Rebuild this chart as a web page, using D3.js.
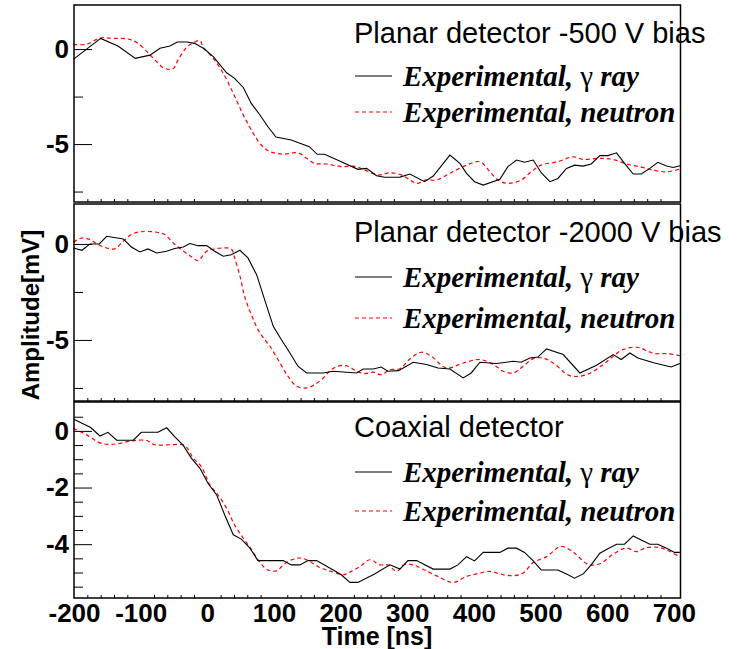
<!DOCTYPE html>
<meta charset="utf-8">
<script src="https://cdn.jsdelivr.net/npm/d3@7"></script>
<style>
    body { margin: 0; background: #fff; }
    svg { display: block; }
</style>
<body>
<svg></svg>
</body>
<script>

    // 时间轴 (ns)
    var xTicksMajor = [-200, -100, 0, 100, 200, 300, 400, 500, 600, 700];

    // Planar -500 V
    var t500Gamma = [-201,-181,-160,-134,-108,-86,-71,-56,-45,-31,-19,-6,9,29,41,54,66,79,91,103,126,153,165,176,201,226,239,254,266,289,304,326,339,364,379,389,401,414,439,451,464,476,489,501,514,526,539,551,564,576,589,601,614,626,639,651,664,676,689,699,709];
    var a500Gamma = [-0.54,0,0.56,0.16,-0.49,-0.32,0.04,0.16,0.37,0.37,0.30,0.04,-0.40,-1.25,-1.54,-2.02,-2.86,-3.47,-4.09,-4.63,-4.79,-5.14,-5.54,-5.54,-5.93,-6.33,-6.28,-6.67,-6.75,-6.74,-6.58,-6.98,-6.68,-5.58,-6.02,-6.54,-6.98,-7.16,-6.86,-6.19,-5.84,-5.96,-5.84,-6.51,-6.98,-6.81,-6.28,-6.11,-6.16,-6.05,-5.61,-5.61,-5.46,-6.02,-6.58,-6.58,-6.28,-5.96,-6.16,-6.23,-6.14];
    var t500Neutron = [-201,-181,-161,-141,-119,-106,-89,-76,-64,-51,-44,-31,-21,-11,-6,9,24,39,54,69,81,94,114,136,149,161,179,201,219,234,256,274,291,304,314,329,344,364,389,409,424,436,451,471,486,501,526,549,564,589,609,629,649,669,689,709];
    var a500Neutron = [0.25,0.25,0.58,0.56,0.53,0.35,-0.19,-0.67,-1.02,-1.02,-0.58,0.09,0.33,0.44,0.09,-0.49,-1.28,-2.33,-3.47,-4.44,-5.05,-5.40,-5.53,-5.46,-5.75,-6.02,-6.05,-6.19,-6.16,-6.33,-6.63,-6.51,-6.62,-6.89,-7.07,-6.89,-6.89,-6.54,-6.11,-5.93,-6.46,-6.89,-7.07,-6.89,-6.46,-6.11,-5.93,-5.67,-5.81,-5.75,-5.81,-6.05,-6.19,-6.37,-6.46,-6.32];

    // Planar -2000 V
    var t2000Gamma = [-201,-188,-176,-162,-151,-126,-114,-101,-89,-76,-61,-49,-36,-26,-14,-1,11,24,36,49,61,74,86,99,111,124,136,149,174,189,224,234,249,261,271,287,309,329,346,364,384,396,409,434,459,471,484,496,509,534,559,584,609,621,634,646,671,696,709];
    var a2000Gamma = [-0.21,-0.33,0,0,0.40,0.26,-0.16,-0.42,-0.26,-0.47,-0.38,-0.24,-0.16,0.02,-0.09,-0.09,-0.38,-0.64,-0.56,-0.33,-0.73,-1.60,-2.90,-4.29,-4.98,-5.68,-6.37,-6.72,-6.72,-6.63,-6.72,-6.51,-6.51,-6.41,-6.63,-6.60,-6.16,-6.28,-6.46,-6.51,-6.98,-6.72,-6.16,-6.23,-6.11,-6.16,-5.94,-5.89,-5.47,-5.76,-6.72,-6.32,-5.76,-6.02,-5.68,-5.94,-6.20,-6.41,-6.23];
    var t2000Neutron = [-201,-188,-176,-164,-151,-139,-126,-114,-101,-76,-64,-51,-39,-26,-14,-1,11,24,36,41,49,56,66,79,94,109,121,134,149,161,174,186,199,211,224,236,249,261,274,289,304,321,336,359,384,409,429,444,459,474,489,504,519,544,569,594,609,624,646,661,671,689,709];
    var a2000Neutron = [0.09,0.31,0.23,-0.03,-0.21,-0.26,0.14,0.49,0.63,0.61,0.49,0.05,-0.30,-0.61,-0.87,-0.38,-0.26,-0.21,-0.26,-0.73,-1.68,-2.73,-3.68,-4.64,-5.33,-6.20,-6.89,-7.41,-7.50,-7.33,-6.98,-6.55,-6.34,-6.37,-6.63,-6.75,-6.68,-6.81,-6.55,-6.50,-5.99,-5.64,-5.85,-6.46,-6.20,-6.02,-6.28,-6.63,-6.72,-6.37,-5.97,-5.94,-6.20,-6.86,-6.81,-6.28,-5.85,-5.50,-5.38,-5.59,-5.71,-5.71,-5.82];

    // Coaxial
    var tCoaxGamma = [-201,-188,-175,-161,-149,-136,-111,-99,-74,-61,-49,-36,-24,-11,1,14,26,39,51,64,76,114,126,139,151,164,189,201,214,226,251,274,289,301,314,339,364,376,389,401,414,439,451,464,476,489,501,526,539,551,564,576,589,601,614,626,639,651,664,676,689,701,709];
    var aCoaxGamma = [0.42,0.27,0.12,-0.18,-0.05,-0.33,-0.33,-0.05,-0.05,0.11,-0.20,-0.51,-0.96,-1.32,-1.85,-2.26,-2.96,-3.67,-3.82,-4.14,-4.58,-4.58,-4.73,-4.73,-4.58,-4.58,-4.91,-5.08,-5.35,-5.35,-5.05,-4.73,-4.88,-4.58,-4.58,-4.88,-4.88,-4.73,-4.44,-4.59,-4.29,-4.29,-4.14,-4.14,-4.29,-4.59,-4.91,-4.91,-5.05,-5.20,-5.05,-4.73,-4.32,-4.16,-4.00,-4.00,-3.71,-3.85,-4.00,-4.00,-4.14,-4.29,-4.29];
    var tCoaxNeutron = [-201,-181,-159,-136,-114,-91,-79,-56,-34,-21,-9,4,16,29,41,54,66,79,91,104,116,129,141,154,166,179,191,204,216,229,244,259,271,284,296,309,326,344,369,389,404,424,444,461,474,489,509,531,551,571,589,609,629,644,659,679,694,709];
    var aCoaxNeutron = [0.09,-0.14,-0.44,-0.46,-0.35,-0.34,-0.49,-0.49,-0.52,-0.96,-1.26,-1.91,-2.26,-2.73,-3.32,-3.79,-4.18,-4.64,-4.91,-4.94,-4.69,-4.53,-4.49,-4.61,-4.79,-4.91,-5.00,-5.08,-4.96,-4.79,-4.55,-4.73,-4.73,-4.96,-4.72,-4.73,-4.91,-5.12,-5.35,-5.14,-5.05,-4.96,-5.08,-5.11,-5.02,-4.65,-4.44,-4.08,-4.32,-4.71,-4.69,-4.35,-4.14,-4.26,-4.12,-4.12,-4.26,-4.44];

    var panelTitles = ["Planar detector -500 V bias", "Planar detector -2000 V bias", "Coaxial detector"];
    var legendLabels = ["Experimental, ", " ray", "Experimental, neutron"];

    var width = 741, height = 649;
    var svg = d3.select('svg').attr('width', width).attr('height', height);

    var x = d3.scaleLinear().domain([-200, 710]).range([74, 680.5]);

    // 普通连字符, 不用 unicode 负号
    var plainFmt = function (d) { return String(d); };

    var panels = [
        {top: 5, bottom: 202, dom: [-8.05, 2.32], major: [0, -5], minor: [-2.5, -7.5],
            gamma: [t500Gamma, a500Gamma], neutron: [t500Neutron, a500Neutron], ly: [42.5, 86, 122]},
        {top: 204, bottom: 401, dom: [-8.18, 2.08], major: [0, -5], minor: [-2.5, -7.5],
            gamma: [t2000Gamma, a2000Gamma], neutron: [t2000Neutron, a2000Neutron], ly: [241.5, 287, 328]},
        {top: 402, bottom: 598, dom: [-5.9, 1.02], major: [0, -2, -4], minor: [0.5, -0.5, -1, -1.5, -2.5, -3, -3.5, -4.5, -5, -5.5],
            gamma: [tCoaxGamma, aCoaxGamma], neutron: [tCoaxNeutron, aCoaxNeutron], ly: [436.5, 482, 521]}
    ];

    var xMinor = d3.range(-200, 711, 20).filter(function (d) { return d % 100 != 0; });

    panels.forEach(function (p, i) {
        var y = d3.scaleLinear().domain(p.dom).range([p.bottom, p.top]);
        var g = svg.append('g');

        // 曲线
        var lineG = d3.line().x(function (d) { return x(d[0]); }).y(function (d) { return y(d[1]); });
        var lineN = d3.line().curve(d3.curveCatmullRom.alpha(0.5))
            .x(function (d) { return x(d[0]); }).y(function (d) { return y(d[1]); });

        g.append('path')
            .attr('d', lineN(d3.zip(p.neutron[0], p.neutron[1])))
            .attr('fill', 'none').attr('stroke', '#ff0000').attr('stroke-width', 1.2)
            .attr('stroke-dasharray', '4,3');
        g.append('path')
            .attr('d', lineG(d3.zip(p.gamma[0], p.gamma[1])))
            .attr('fill', 'none').attr('stroke', '#000').attr('stroke-width', 1.1);

        // x 轴刻度 (朝上)
        var xa = g.append('g').attr('transform', 'translate(0,' + p.bottom + ')');
        xa.call(d3.axisBottom(x).tickValues(xTicksMajor).tickSize(-6).tickFormat(''));
        xa.call(d3.axisBottom(x).tickValues(xMinor).tickSize(-3).tickFormat(''));
        xa.selectAll('.domain').remove();

        // y 轴刻度
        var ya = g.append('g').attr('transform', 'translate(74,0)');
        ya.append('g').call(d3.axisLeft(y).tickValues(p.minor).tickSize(-9).tickFormat(''));
        ya.append('g').call(d3.axisLeft(y).tickValues(p.major).tickSize(-18).tickPadding(5).tickFormat(plainFmt));
        ya.selectAll('.domain').remove();
        ya.selectAll('line').attr('stroke', '#000');
        xa.selectAll('line').attr('stroke', '#000');
        ya.selectAll('text')
            .style('font-family', 'Liberation Sans, Arial, sans-serif')
            .style('font-weight', 'bold').style('font-size', '26px').attr('fill', '#000');

        // 边框
        g.append('rect')
            .attr('x', 74).attr('y', p.top)
            .attr('width', 680.5 - 74).attr('height', p.bottom - p.top)
            .attr('fill', 'none').attr('stroke', '#000').attr('stroke-width', 1.5);

        // 图例
        g.append('text').attr('x', 354).attr('y', p.ly[0])
            .style('font-family', 'Liberation Sans, Arial, sans-serif').style('font-size', '29px')
            .text(panelTitles[i]);

        g.append('line').attr('x1', 355).attr('x2', 392).attr('y1', p.ly[1] - 10).attr('y2', p.ly[1] - 10)
            .attr('stroke', '#000').attr('stroke-width', 1.1);
        g.append('line').attr('x1', 355).attr('x2', 392).attr('y1', p.ly[2] - 10).attr('y2', p.ly[2] - 10)
            .attr('stroke', '#ff0000').attr('stroke-width', 1.2).attr('stroke-dasharray', '4,3');

        var t1 = g.append('text').attr('x', 403).attr('y', p.ly[1])
            .style('font-family', 'Liberation Serif, Times New Roman, serif')
            .style('font-weight', 'bold').style('font-style', 'italic').style('font-size', '29px');
        t1.append('tspan').text(legendLabels[0]);
        t1.append('tspan').style('font-style', 'normal').style('font-weight', 'normal').text('γ');
        t1.append('tspan').text(legendLabels[1]);

        g.append('text').attr('x', 403).attr('y', p.ly[2])
            .style('font-family', 'Liberation Serif, Times New Roman, serif')
            .style('font-weight', 'bold').style('font-style', 'italic').style('font-size', '29px')
            .text(legendLabels[2]);
    });

    // x 轴标签
    var xl = svg.append('g').attr('transform', 'translate(0,598)')
        .call(d3.axisBottom(x).tickValues(xTicksMajor).tickSize(0).tickPadding(5.5).tickFormat(plainFmt));
    xl.selectAll('.domain').remove();
    xl.selectAll('text')
        .style('font-family', 'Liberation Sans, Arial, sans-serif')
        .style('font-weight', 'bold').style('font-size', '26px').attr('fill', '#000');

    svg.append('text')
        .attr('x', 377).attr('y', 645)
        .attr('text-anchor', 'middle')
        .style('font-family', 'Liberation Sans, Arial, sans-serif')
        .style('font-weight', 'bold').style('font-size', '25px')
        .text('Time [ns]');

    svg.append('text')
        .attr('transform', 'translate(39,315) rotate(-90)')
        .attr('text-anchor', 'middle')
        .style('font-family', 'Liberation Sans, Arial, sans-serif')
        .style('font-weight', 'bold').style('font-size', '24px')
        .text('Amplitude[mV]');

</script>
